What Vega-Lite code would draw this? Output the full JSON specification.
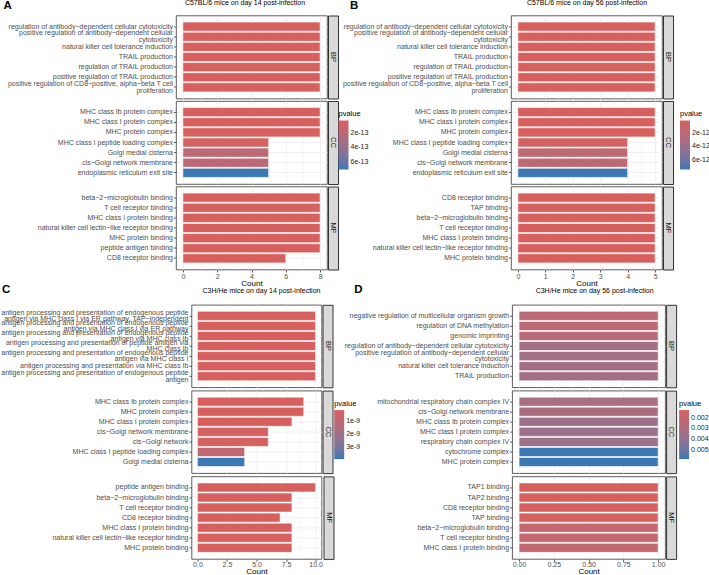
{
"$schema": "https://vega.github.io/schema/vega-lite/v6.json",
"padding": {"left": 0, "top": -1.5, "right": 0, "bottom": 0},
"config": {
  "font": "Liberation Sans",
  "view": {"stroke": "#333333", "strokeWidth": 0.8},
  "axis": {"domain": false, "labelColor": "#4D4D4D", "labelFontSize": 7, "tickColor": "#333333", "tickSize": 2.5, "tickWidth": 0.8, "labelPadding": 1, "gridColor": "#EBEBEB", "titleColor": "#000000", "titleFontWeight": "normal", "titleFontSize": 8},
  "legend": {"titleFontSize": 7.5, "titleFontWeight": "normal", "titleColor": "#000000", "labelFontSize": 7, "labelColor": "#1A1A1A", "gradientThickness": 10, "gradientLength": 49, "titlePadding": 3, "labelOffset": 2, "gradientStrokeWidth": 0}
},
"datasets": {
  "A": [
    {"cat": "BP", "term": "regulation of antibody−dependent cellular cytotoxicity", "count": 8, "pvalue": 2.4e-14},
    {"cat": "BP", "term": "positive regulation of antibody−dependent cellular|cytotoxicity", "count": 8, "pvalue": 2.4e-14},
    {"cat": "BP", "term": "natural killer cell tolerance induction", "count": 8, "pvalue": 2.4e-14},
    {"cat": "BP", "term": "TRAIL production", "count": 8, "pvalue": 2.4e-14},
    {"cat": "BP", "term": "regulation of TRAIL production", "count": 8, "pvalue": 2.4e-14},
    {"cat": "BP", "term": "positive regulation of TRAIL production", "count": 8, "pvalue": 2.4e-14},
    {"cat": "BP", "term": "positive regulation of CD8−positive, alpha−beta T cell|proliferation", "count": 8, "pvalue": 2.4e-14},
    {"cat": "CC", "term": "MHC class Ib protein complex", "count": 8, "pvalue": 2.4e-14},
    {"cat": "CC", "term": "MHC class I protein complex", "count": 8, "pvalue": 2.4e-14},
    {"cat": "CC", "term": "MHC protein complex", "count": 8, "pvalue": 2.4e-14},
    {"cat": "CC", "term": "MHC class I peptide loading complex", "count": 5, "pvalue": 4e-14},
    {"cat": "CC", "term": "Golgi medial cisterna", "count": 5, "pvalue": 2.0e-13},
    {"cat": "CC", "term": "cis−Golgi network membrane", "count": 5, "pvalue": 2.0e-13},
    {"cat": "CC", "term": "endoplasmic reticulum exit site", "count": 5, "pvalue": 7.1e-13},
    {"cat": "MF", "term": "beta−2−microglobulin binding", "count": 8, "pvalue": 2.4e-14},
    {"cat": "MF", "term": "T cell receptor binding", "count": 8, "pvalue": 2.4e-14},
    {"cat": "MF", "term": "MHC class I protein binding", "count": 8, "pvalue": 2.4e-14},
    {"cat": "MF", "term": "natural killer cell lectin−like receptor binding", "count": 8, "pvalue": 2.4e-14},
    {"cat": "MF", "term": "MHC protein binding", "count": 8, "pvalue": 2.4e-14},
    {"cat": "MF", "term": "peptide antigen binding", "count": 8, "pvalue": 2.4e-14},
    {"cat": "MF", "term": "CD8 receptor binding", "count": 6, "pvalue": 2.4e-14}
  ],
  "B": [
    {"cat": "BP", "term": "regulation of antibody−dependent cellular cytotoxicity", "count": 5, "pvalue": 1e-13},
    {"cat": "BP", "term": "positive regulation of antibody−dependent cellular|cytotoxicity", "count": 5, "pvalue": 1e-13},
    {"cat": "BP", "term": "natural killer cell tolerance induction", "count": 5, "pvalue": 1e-13},
    {"cat": "BP", "term": "TRAIL production", "count": 5, "pvalue": 1e-13},
    {"cat": "BP", "term": "regulation of TRAIL production", "count": 5, "pvalue": 1e-13},
    {"cat": "BP", "term": "positive regulation of TRAIL production", "count": 5, "pvalue": 1e-13},
    {"cat": "BP", "term": "positive regulation of CD8−positive, alpha−beta T cell|proliferation", "count": 5, "pvalue": 1e-13},
    {"cat": "CC", "term": "MHC class Ib protein complex", "count": 5, "pvalue": 1e-13},
    {"cat": "CC", "term": "MHC class I protein complex", "count": 5, "pvalue": 1e-13},
    {"cat": "CC", "term": "MHC protein complex", "count": 5, "pvalue": 1e-13},
    {"cat": "CC", "term": "MHC class I peptide loading complex", "count": 4, "pvalue": 3e-13},
    {"cat": "CC", "term": "Golgi medial cisterna", "count": 4, "pvalue": 1.9e-12},
    {"cat": "CC", "term": "cis−Golgi network membrane", "count": 4, "pvalue": 1.9e-12},
    {"cat": "CC", "term": "endoplasmic reticulum exit site", "count": 4, "pvalue": 7.46e-12},
    {"cat": "MF", "term": "CD8 receptor binding", "count": 5, "pvalue": 1e-13},
    {"cat": "MF", "term": "TAP binding", "count": 5, "pvalue": 1e-13},
    {"cat": "MF", "term": "beta−2−microglobulin binding", "count": 5, "pvalue": 1e-13},
    {"cat": "MF", "term": "T cell receptor binding", "count": 5, "pvalue": 1e-13},
    {"cat": "MF", "term": "MHC class I protein binding", "count": 5, "pvalue": 1e-13},
    {"cat": "MF", "term": "natural killer cell lectin−like receptor binding", "count": 5, "pvalue": 1e-13},
    {"cat": "MF", "term": "MHC protein binding", "count": 5, "pvalue": 1e-13}
  ],
  "C": [
    {"cat": "BP", "term": "antigen processing and presentation of endogenous peptide|antigen via MHC class I via ER pathway, TAP−independent", "count": 10, "pvalue": 1.8e-10},
    {"cat": "BP", "term": "antigen processing and presentation of endogenous peptide|antigen via MHC class I via ER pathway", "count": 10, "pvalue": 1.8e-10},
    {"cat": "BP", "term": "antigen processing and presentation of endogenous peptide|antigen via MHC class Ib", "count": 10, "pvalue": 1.8e-10},
    {"cat": "BP", "term": "antigen processing and presentation of peptide antigen via|MHC class Ib", "count": 10, "pvalue": 1.8e-10},
    {"cat": "BP", "term": "antigen processing and presentation of endogenous peptide|antigen via MHC class I", "count": 10, "pvalue": 1.8e-10},
    {"cat": "BP", "term": "antigen processing and presentation via MHC class Ib", "count": 10, "pvalue": 1.8e-10},
    {"cat": "BP", "term": "antigen processing and presentation of endogenous peptide|antigen", "count": 10, "pvalue": 1.8e-10},
    {"cat": "CC", "term": "MHC class Ib protein complex", "count": 9, "pvalue": 1.8e-10},
    {"cat": "CC", "term": "MHC protein complex", "count": 9, "pvalue": 1.8e-10},
    {"cat": "CC", "term": "MHC class I protein complex", "count": 8, "pvalue": 1.8e-10},
    {"cat": "CC", "term": "cis−Golgi network membrane", "count": 6, "pvalue": 2.5e-10},
    {"cat": "CC", "term": "cis−Golgi network", "count": 6, "pvalue": 2.5e-10},
    {"cat": "CC", "term": "MHC class I peptide loading complex", "count": 4, "pvalue": 9.5e-10},
    {"cat": "CC", "term": "Golgi medial cisterna", "count": 4, "pvalue": 3.95e-9},
    {"cat": "MF", "term": "peptide antigen binding", "count": 10, "pvalue": 1.8e-10},
    {"cat": "MF", "term": "beta−2−microglobulin binding", "count": 8, "pvalue": 1.8e-10},
    {"cat": "MF", "term": "T cell receptor binding", "count": 8, "pvalue": 1.8e-10},
    {"cat": "MF", "term": "CD8 receptor binding", "count": 7, "pvalue": 1.8e-10},
    {"cat": "MF", "term": "MHC class I protein binding", "count": 8, "pvalue": 1.8e-10},
    {"cat": "MF", "term": "natural killer cell lectin−like receptor binding", "count": 8, "pvalue": 1.8e-10},
    {"cat": "MF", "term": "MHC protein binding", "count": 8, "pvalue": 1.8e-10}
  ],
  "D": [
    {"cat": "BP", "term": "negative regulation of multicellular organism growth", "count": 1, "pvalue": 0.0025},
    {"cat": "BP", "term": "regulation of DNA methylation", "count": 1, "pvalue": 0.0025},
    {"cat": "BP", "term": "genomic imprinting", "count": 1, "pvalue": 0.0026},
    {"cat": "BP", "term": "regulation of antibody−dependent cellular cytotoxicity", "count": 1, "pvalue": 0.0034},
    {"cat": "BP", "term": "positive regulation of antibody−dependent cellular|cytotoxicity", "count": 1, "pvalue": 0.0034},
    {"cat": "BP", "term": "natural killer cell tolerance induction", "count": 1, "pvalue": 0.0034},
    {"cat": "BP", "term": "TRAIL production", "count": 1, "pvalue": 0.0034},
    {"cat": "CC", "term": "mitochondrial respiratory chain complex IV", "count": 1, "pvalue": 0.0032},
    {"cat": "CC", "term": "cis−Golgi network membrane", "count": 1, "pvalue": 0.0031},
    {"cat": "CC", "term": "MHC class Ib protein complex", "count": 1, "pvalue": 0.0036},
    {"cat": "CC", "term": "MHC class I protein complex", "count": 1, "pvalue": 0.0036},
    {"cat": "CC", "term": "respiratory chain complex IV", "count": 1, "pvalue": 0.0036},
    {"cat": "CC", "term": "cytochrome complex", "count": 1, "pvalue": 0.0059},
    {"cat": "CC", "term": "MHC protein complex", "count": 1, "pvalue": 0.0059},
    {"cat": "MF", "term": "TAP1 binding", "count": 1, "pvalue": 0.0013},
    {"cat": "MF", "term": "TAP2 binding", "count": 1, "pvalue": 0.0013},
    {"cat": "MF", "term": "CD8 receptor binding", "count": 1, "pvalue": 0.00135},
    {"cat": "MF", "term": "TAP binding", "count": 1, "pvalue": 0.0014},
    {"cat": "MF", "term": "beta−2−microglobulin binding", "count": 1, "pvalue": 0.0021},
    {"cat": "MF", "term": "T cell receptor binding", "count": 1, "pvalue": 0.0021},
    {"cat": "MF", "term": "MHC class I protein binding", "count": 1, "pvalue": 0.0022}
  ]
},
"spacing": -5.7,
"resolve": {"scale": {"color": "independent"}},
"vconcat": [
 {"hconcat": [
  {"spacing": 0.5, "resolve": {"scale": {"color": "independent"}}, "vconcat": [
   {"spacing": -2, "resolve": {"scale": {"color": "independent"}}, "hconcat": [
    {"width": 151, "height": 83, "data": {"name": "A"}, "transform": [{"filter": "datum.cat == 'BP'"}],
     "mark": {"type": "bar", "stroke": "white", "strokeWidth": 0.6},
     "encoding": {
      "y": {"field": "term", "type": "nominal", "sort": null, "scale": {"paddingInner": 0.1, "paddingOuter": 0.65},
            "axis": {"title": "A", "titleAngle": 0, "titleAlign": "left", "titleBaseline": "top", "titleX": -173, "titleY": -16.5, "titleFontSize": 11.5, "titleFontWeight": "bold", "labelExpr": "split(datum.value, '|')", "labelOffset": {"condition": {"test": "datum.value == 'positive regulation of antibody−dependent cellular|cytotoxicity' || datum.value == 'positive regulation of CD8−positive, alpha−beta T cell|proliferation'", "value": -3.3}, "value": 0}, "labelLimit": 0, "labelLineHeight": 6.6, "minExtent": 173, "bandPosition": 0.5, "grid": true, "gridWidth": 0.7}},
      "x": {"field": "count", "type": "quantitative", "stack": null, "scale": {"domain": [-0.4, 8.4], "nice": false, "zero": false},
            "axis": {"orient": "top", "labels": false, "ticks": false, "values": [0,1,2,3,4,5,6,7,8], "gridWidth": {"condition": {"test": "datum.value % 2 == 1", "value": 0.35}, "value": 0.7}, "title": "C57BL/6 mice on day 14 post-infection", "titleFontSize": 7, "titleX": 68.5, "titleY": -9.6, "titleBaseline": "bottom"}},
      "x2": {"datum": 0},
      "color": {"field": "pvalue", "type": "quantitative", "scale": {"domain": [7.1e-13, 2.4e-14], "range": ["#3B78B4", "#D7605F"], "interpolate": "lab", "nice": false, "zero": false}, "legend": null}
     }},
    {"width": 10, "height": 83, "view": {"fill": "#D9D9D9", "stroke": "#333333"}, "data": {"values": [{"lab": "BP"}]}, "mark": {"type": "text", "angle": 90, "fontSize": 7.5, "color": "#1A1A1A"}, "encoding": {"text": {"field": "lab", "type": "nominal"}}}
   ]},
   {"spacing": -2, "resolve": {"scale": {"color": "independent"}}, "hconcat": [
    {"width": 151, "height": 83, "data": {"name": "A"}, "transform": [{"filter": "datum.cat == 'CC'"}],
     "mark": {"type": "bar", "stroke": "white", "strokeWidth": 0.6},
     "encoding": {
      "y": {"field": "term", "type": "nominal", "sort": null, "scale": {"paddingInner": 0.1, "paddingOuter": 0.65},
            "axis": {"title": null, "labelLimit": 0, "minExtent": 173, "bandPosition": 0.5, "grid": true, "gridWidth": 0.7}},
      "x": {"field": "count", "type": "quantitative", "stack": null, "scale": {"domain": [-0.4, 8.4], "nice": false, "zero": false},
            "axis": {"title": null, "labels": false, "ticks": false, "values": [0,1,2,3,4,5,6,7,8], "gridWidth": {"condition": {"test": "datum.value % 2 == 1", "value": 0.35}, "value": 0.7}}},
      "x2": {"datum": 0},
      "color": {"field": "pvalue", "type": "quantitative", "scale": {"domain": [7.1e-13, 2.4e-14], "range": ["#3B78B4", "#D7605F"], "interpolate": "lab", "nice": false, "zero": false}, "legend": null}
     }},
    {"width": 10, "height": 83, "view": {"fill": "#D9D9D9", "stroke": "#333333"}, "layer": [
      {"data": {"values": [{"lab": "CC"}]}, "mark": {"type": "text", "angle": 90, "fontSize": 7.5, "color": "#1A1A1A"}, "encoding": {"text": {"field": "lab", "type": "nominal"}}},
      {"data": {"name": "A"}, "transform": [{"filter": "datum.cat == 'CC'"}], "mark": {"type": "point", "opacity": 0},
       "encoding": {"color": {"field": "pvalue", "type": "quantitative", "scale": {"domain": [7.1e-13, 2.4e-14], "range": ["#3B78B4", "#D7605F"], "interpolate": "lab", "nice": false, "zero": false},
         "legend": {"title": "pvalue", "orient": "none", "legendX": 10.5, "legendY": 9, "direction": "vertical", "values": [2e-13, 4e-13, 6e-13], "format": ".0e"}}}}
    ]}
   ]},
   {"spacing": -2, "resolve": {"scale": {"color": "independent"}}, "hconcat": [
    {"width": 151, "height": 83, "data": {"name": "A"}, "transform": [{"filter": "datum.cat == 'MF'"}],
     "mark": {"type": "bar", "stroke": "white", "strokeWidth": 0.6},
     "encoding": {
      "y": {"field": "term", "type": "nominal", "sort": null, "scale": {"paddingInner": 0.1, "paddingOuter": 0.65},
            "axis": {"title": null, "labelLimit": 0, "minExtent": 173, "bandPosition": 0.5, "grid": true, "gridWidth": 0.7}},
      "x": {"field": "count", "type": "quantitative", "stack": null, "scale": {"domain": [-0.4, 8.4], "nice": false, "zero": false},
            "axis": {"title": "Count", "titleY": 10.4, "titleBaseline": "top", "labelPadding": 0, "format": "d", "values": [0,1,2,3,4,5,6,7,8], "labelExpr": "datum.value % 2 == 1 ? '' : datum.label", "tickOpacity": {"condition": {"test": "datum.value % 2 == 1", "value": 0}, "value": 1}, "gridWidth": {"condition": {"test": "datum.value % 2 == 1", "value": 0.35}, "value": 0.7}}},
      "x2": {"datum": 0},
      "color": {"field": "pvalue", "type": "quantitative", "scale": {"domain": [7.1e-13, 2.4e-14], "range": ["#3B78B4", "#D7605F"], "interpolate": "lab", "nice": false, "zero": false}, "legend": null}
     }},
    {"width": 10, "height": 83, "view": {"fill": "#D9D9D9", "stroke": "#333333"}, "data": {"values": [{"lab": "MF"}]}, "mark": {"type": "text", "angle": 90, "fontSize": 7.5, "color": "#1A1A1A"}, "encoding": {"text": {"field": "lab", "type": "nominal"}}}
   ]}
  ]},
  {"spacing": 0.5, "resolve": {"scale": {"color": "independent"}}, "vconcat": [
   {"spacing": -2, "resolve": {"scale": {"color": "independent"}}, "hconcat": [
    {"width": 151, "height": 83, "data": {"name": "B"}, "transform": [{"filter": "datum.cat == 'BP'"}],
     "mark": {"type": "bar", "stroke": "white", "strokeWidth": 0.6},
     "encoding": {
      "y": {"field": "term", "type": "nominal", "sort": null, "scale": {"paddingInner": 0.1, "paddingOuter": 0.65},
            "axis": {"title": "B", "titleAngle": 0, "titleAlign": "left", "titleBaseline": "top", "titleX": -161.5, "titleY": -16.5, "titleFontSize": 11.5, "titleFontWeight": "bold", "labelExpr": "split(datum.value, '|')", "labelOffset": {"condition": {"test": "datum.value == 'positive regulation of antibody−dependent cellular|cytotoxicity' || datum.value == 'positive regulation of CD8−positive, alpha−beta T cell|proliferation'", "value": -3.3}, "value": 0}, "labelLimit": 0, "labelLineHeight": 6.6, "minExtent": 175, "bandPosition": 0.5, "grid": true, "gridWidth": 0.7}},
      "x": {"field": "count", "type": "quantitative", "stack": null, "scale": {"domain": [-0.25, 5.25], "nice": false, "zero": false},
            "axis": {"orient": "top", "labels": false, "ticks": false, "values": [0,0.5,1,1.5,2,2.5,3,3.5,4,4.5,5], "gridWidth": {"condition": {"test": "datum.value % 1 != 0", "value": 0.35}, "value": 0.7}, "title": "C57BL/6 mice on day 56 post-infection", "titleFontSize": 7, "titleX": 75.5, "titleY": -9.6, "titleBaseline": "bottom"}},
      "x2": {"datum": 0},
      "color": {"field": "pvalue", "type": "quantitative", "scale": {"domain": [7.46e-12, 1e-13], "range": ["#3B78B4", "#D7605F"], "interpolate": "lab", "nice": false, "zero": false}, "legend": null}
     }},
    {"width": 10, "height": 83, "view": {"fill": "#D9D9D9", "stroke": "#333333"}, "data": {"values": [{"lab": "BP"}]}, "mark": {"type": "text", "angle": 90, "fontSize": 7.5, "color": "#1A1A1A"}, "encoding": {"text": {"field": "lab", "type": "nominal"}}}
   ]},
   {"spacing": -2, "resolve": {"scale": {"color": "independent"}}, "hconcat": [
    {"width": 151, "height": 83, "data": {"name": "B"}, "transform": [{"filter": "datum.cat == 'CC'"}],
     "mark": {"type": "bar", "stroke": "white", "strokeWidth": 0.6},
     "encoding": {
      "y": {"field": "term", "type": "nominal", "sort": null, "scale": {"paddingInner": 0.1, "paddingOuter": 0.65},
            "axis": {"title": null, "labelLimit": 0, "minExtent": 175, "bandPosition": 0.5, "grid": true, "gridWidth": 0.7}},
      "x": {"field": "count", "type": "quantitative", "stack": null, "scale": {"domain": [-0.25, 5.25], "nice": false, "zero": false},
            "axis": {"title": null, "labels": false, "ticks": false, "values": [0,0.5,1,1.5,2,2.5,3,3.5,4,4.5,5], "gridWidth": {"condition": {"test": "datum.value % 1 != 0", "value": 0.35}, "value": 0.7}}},
      "x2": {"datum": 0},
      "color": {"field": "pvalue", "type": "quantitative", "scale": {"domain": [7.46e-12, 1e-13], "range": ["#3B78B4", "#D7605F"], "interpolate": "lab", "nice": false, "zero": false}, "legend": null}
     }},
    {"width": 10, "height": 83, "view": {"fill": "#D9D9D9", "stroke": "#333333"}, "layer": [
      {"data": {"values": [{"lab": "CC"}]}, "mark": {"type": "text", "angle": 90, "fontSize": 7.5, "color": "#1A1A1A"}, "encoding": {"text": {"field": "lab", "type": "nominal"}}},
      {"data": {"name": "B"}, "transform": [{"filter": "datum.cat == 'CC'"}], "mark": {"type": "point", "opacity": 0},
       "encoding": {"color": {"field": "pvalue", "type": "quantitative", "scale": {"domain": [7.46e-12, 1e-13], "range": ["#3B78B4", "#D7605F"], "interpolate": "lab", "nice": false, "zero": false},
         "legend": {"title": "pvalue", "orient": "none", "legendX": 17, "legendY": 9, "direction": "vertical", "values": [2e-12, 4e-12, 6e-12], "format": ".0e"}}}}
    ]}
   ]},
   {"spacing": -2, "resolve": {"scale": {"color": "independent"}}, "hconcat": [
    {"width": 151, "height": 83, "data": {"name": "B"}, "transform": [{"filter": "datum.cat == 'MF'"}],
     "mark": {"type": "bar", "stroke": "white", "strokeWidth": 0.6},
     "encoding": {
      "y": {"field": "term", "type": "nominal", "sort": null, "scale": {"paddingInner": 0.1, "paddingOuter": 0.65},
            "axis": {"title": null, "labelLimit": 0, "minExtent": 175, "bandPosition": 0.5, "grid": true, "gridWidth": 0.7}},
      "x": {"field": "count", "type": "quantitative", "stack": null, "scale": {"domain": [-0.25, 5.25], "nice": false, "zero": false},
            "axis": {"title": "Count", "titleY": 10.4, "titleBaseline": "top", "labelPadding": 0, "format": "d", "values": [0,0.5,1,1.5,2,2.5,3,3.5,4,4.5,5], "labelExpr": "datum.value % 1 != 0 ? '' : datum.label", "tickOpacity": {"condition": {"test": "datum.value % 1 != 0", "value": 0}, "value": 1}, "gridWidth": {"condition": {"test": "datum.value % 1 != 0", "value": 0.35}, "value": 0.7}}},
      "x2": {"datum": 0},
      "color": {"field": "pvalue", "type": "quantitative", "scale": {"domain": [7.46e-12, 1e-13], "range": ["#3B78B4", "#D7605F"], "interpolate": "lab", "nice": false, "zero": false}, "legend": null}
     }},
    {"width": 10, "height": 83, "view": {"fill": "#D9D9D9", "stroke": "#333333"}, "data": {"values": [{"lab": "MF"}]}, "mark": {"type": "text", "angle": 90, "fontSize": 7.5, "color": "#1A1A1A"}, "encoding": {"text": {"field": "lab", "type": "nominal"}}}
   ]}
  ]}
 ], "spacing": -34, "resolve": {"scale": {"color": "independent"}}},
 {"hconcat": [
  {"width": 1, "height": 1, "view": {"stroke": null}, "data": {"values": [{"v": 0}]}, "mark": {"type": "point", "opacity": 0}, "encoding": {}},
  {"hconcat": [
  {"spacing": 1.8, "resolve": {"scale": {"color": "independent"}}, "vconcat": [
   {"spacing": -2, "resolve": {"scale": {"color": "independent"}}, "hconcat": [
    {"width": 130, "height": 82.5, "data": {"name": "C"}, "transform": [{"filter": "datum.cat == 'BP'"}],
     "mark": {"type": "bar", "stroke": "white", "strokeWidth": 0.6},
     "encoding": {
      "y": {"field": "term", "type": "nominal", "sort": null, "scale": {"paddingInner": 0.1, "paddingOuter": 0.65},
            "axis": {"title": "C", "titleAngle": 0, "titleAlign": "left", "titleBaseline": "top", "titleX": -190, "titleY": -21.3, "titleFontSize": 11.5, "titleFontWeight": "bold", "labelFontSize": 7.05, "labelExpr": "split(datum.value, '|')", "labelOffset": {"condition": {"test": "datum.value != 'antigen processing and presentation via MHC class Ib'", "value": -3.3}, "value": 0}, "labelLimit": 0, "labelLineHeight": 6.6, "minExtent": 191, "bandPosition": 0.5, "grid": true, "gridWidth": 0.7}},
      "x": {"field": "count", "type": "quantitative", "stack": null, "scale": {"domain": [-0.5, 10.5], "nice": false, "zero": false},
            "axis": {"orient": "top", "labels": false, "ticks": false, "values": [0,1.25,2.5,3.75,5,6.25,7.5,8.75,10], "gridWidth": {"condition": {"test": "datum.value % 2.5 != 0", "value": 0.35}, "value": 0.7}, "title": "C3H/He mice on day 14 post-infection", "titleFontSize": 7, "titleX": 69.5, "titleY": -11.6, "titleBaseline": "bottom"}},
      "x2": {"datum": 0},
      "color": {"field": "pvalue", "type": "quantitative", "scale": {"domain": [3.95e-9, 1.8e-10], "range": ["#3B78B4", "#D7605F"], "interpolate": "lab", "nice": false, "zero": false}, "legend": null}
     }},
    {"width": 10, "height": 82.5, "view": {"fill": "#D9D9D9", "stroke": "#333333"}, "data": {"values": [{"lab": "BP"}]}, "mark": {"type": "text", "angle": 90, "fontSize": 7.5, "color": "#1A1A1A"}, "encoding": {"text": {"field": "lab", "type": "nominal"}}}
   ]},
   {"spacing": -2, "resolve": {"scale": {"color": "independent"}}, "hconcat": [
    {"width": 130, "height": 82.5, "data": {"name": "C"}, "transform": [{"filter": "datum.cat == 'CC'"}],
     "mark": {"type": "bar", "stroke": "white", "strokeWidth": 0.6},
     "encoding": {
      "y": {"field": "term", "type": "nominal", "sort": null, "scale": {"paddingInner": 0.1, "paddingOuter": 0.65},
            "axis": {"title": null, "labelFontSize": 7.05, "labelLimit": 0, "minExtent": 191, "bandPosition": 0.5, "grid": true, "gridWidth": 0.7}},
      "x": {"field": "count", "type": "quantitative", "stack": null, "scale": {"domain": [-0.5, 10.5], "nice": false, "zero": false},
            "axis": {"title": null, "labels": false, "ticks": false, "values": [0,1.25,2.5,3.75,5,6.25,7.5,8.75,10], "gridWidth": {"condition": {"test": "datum.value % 2.5 != 0", "value": 0.35}, "value": 0.7}}},
      "x2": {"datum": 0},
      "color": {"field": "pvalue", "type": "quantitative", "scale": {"domain": [3.95e-9, 1.8e-10], "range": ["#3B78B4", "#D7605F"], "interpolate": "lab", "nice": false, "zero": false}, "legend": null}
     }},
    {"width": 10, "height": 82.5, "view": {"fill": "#D9D9D9", "stroke": "#333333"}, "layer": [
      {"data": {"values": [{"lab": "CC"}]}, "mark": {"type": "text", "angle": 90, "fontSize": 7.5, "color": "#1A1A1A"}, "encoding": {"text": {"field": "lab", "type": "nominal"}}},
      {"data": {"name": "C"}, "transform": [{"filter": "datum.cat == 'CC'"}], "mark": {"type": "point", "opacity": 0},
       "encoding": {"color": {"field": "pvalue", "type": "quantitative", "scale": {"domain": [3.95e-9, 1.8e-10], "range": ["#3B78B4", "#D7605F"], "interpolate": "lab", "nice": false, "zero": false},
         "legend": {"title": "pvalue", "orient": "none", "legendX": 11.7, "legendY": 9, "direction": "vertical", "values": [1e-9, 2e-9, 3e-9], "format": ".0e"}}}}
    ]}
   ]},
   {"spacing": -2, "resolve": {"scale": {"color": "independent"}}, "hconcat": [
    {"width": 130, "height": 82.5, "data": {"name": "C"}, "transform": [{"filter": "datum.cat == 'MF'"}],
     "mark": {"type": "bar", "stroke": "white", "strokeWidth": 0.6},
     "encoding": {
      "y": {"field": "term", "type": "nominal", "sort": null, "scale": {"paddingInner": 0.1, "paddingOuter": 0.65},
            "axis": {"title": null, "labelFontSize": 7.05, "labelLimit": 0, "minExtent": 191, "bandPosition": 0.5, "grid": true, "gridWidth": 0.7}},
      "x": {"field": "count", "type": "quantitative", "stack": null, "scale": {"domain": [-0.5, 10.5], "nice": false, "zero": false},
            "axis": {"title": "Count", "titleY": 8.2, "titleBaseline": "top", "labelPadding": -1, "format": ".1f", "values": [0,1.25,2.5,3.75,5,6.25,7.5,8.75,10], "labelExpr": "datum.value % 2.5 != 0 ? '' : datum.label", "tickOpacity": {"condition": {"test": "datum.value % 2.5 != 0", "value": 0}, "value": 1}, "gridWidth": {"condition": {"test": "datum.value % 2.5 != 0", "value": 0.35}, "value": 0.7}}},
      "x2": {"datum": 0},
      "color": {"field": "pvalue", "type": "quantitative", "scale": {"domain": [3.95e-9, 1.8e-10], "range": ["#3B78B4", "#D7605F"], "interpolate": "lab", "nice": false, "zero": false}, "legend": null}
     }},
    {"width": 10, "height": 82.5, "view": {"fill": "#D9D9D9", "stroke": "#333333"}, "data": {"values": [{"lab": "MF"}]}, "mark": {"type": "text", "angle": 90, "fontSize": 7.5, "color": "#1A1A1A"}, "encoding": {"text": {"field": "lab", "type": "nominal"}}}
   ]}
  ]},
  {"spacing": 1.8, "resolve": {"scale": {"color": "independent"}}, "vconcat": [
   {"spacing": -2, "resolve": {"scale": {"color": "independent"}}, "hconcat": [
    {"width": 153, "height": 82.5, "data": {"name": "D"}, "transform": [{"filter": "datum.cat == 'BP'"}],
     "mark": {"type": "bar", "stroke": "white", "strokeWidth": 0.6},
     "encoding": {
      "y": {"field": "term", "type": "nominal", "sort": null, "scale": {"paddingInner": 0.1, "paddingOuter": 0.65},
            "axis": {"title": "D", "titleAngle": 0, "titleAlign": "left", "titleBaseline": "top", "titleX": -158.4, "titleY": -21.3, "titleFontSize": 11.5, "titleFontWeight": "bold", "labelExpr": "split(datum.value, '|')", "labelOffset": {"condition": {"test": "datum.value == 'positive regulation of antibody−dependent cellular|cytotoxicity'", "value": -3.3}, "value": 0}, "labelLimit": 0, "labelLineHeight": 6.6, "minExtent": 173, "bandPosition": 0.5, "grid": true, "gridWidth": 0.7}},
      "x": {"field": "count", "type": "quantitative", "stack": null, "scale": {"domain": [-0.05, 1.05], "nice": false, "zero": false},
            "axis": {"orient": "top", "labels": false, "ticks": false, "values": [0,0.125,0.25,0.375,0.5,0.625,0.75,0.875,1], "gridWidth": {"condition": {"test": "datum.value % 0.25 != 0", "value": 0.35}, "value": 0.7}, "title": "C3H/He mice on day 56 post-infection", "titleFontSize": 7, "titleX": 82, "titleY": -11.6, "titleBaseline": "bottom"}},
      "x2": {"datum": 0},
      "color": {"field": "pvalue", "type": "quantitative", "scale": {"domain": [0.0059, 0.0013], "range": ["#3B78B4", "#D7605F"], "interpolate": "lab", "nice": false, "zero": false}, "legend": null}
     }},
    {"width": 10, "height": 82.5, "view": {"fill": "#D9D9D9", "stroke": "#333333"}, "data": {"values": [{"lab": "BP"}]}, "mark": {"type": "text", "angle": 90, "fontSize": 7.5, "color": "#1A1A1A"}, "encoding": {"text": {"field": "lab", "type": "nominal"}}}
   ]},
   {"spacing": -2, "resolve": {"scale": {"color": "independent"}}, "hconcat": [
    {"width": 153, "height": 82.5, "data": {"name": "D"}, "transform": [{"filter": "datum.cat == 'CC'"}],
     "mark": {"type": "bar", "stroke": "white", "strokeWidth": 0.6},
     "encoding": {
      "y": {"field": "term", "type": "nominal", "sort": null, "scale": {"paddingInner": 0.1, "paddingOuter": 0.65},
            "axis": {"title": null, "labelLimit": 0, "minExtent": 173, "bandPosition": 0.5, "grid": true, "gridWidth": 0.7}},
      "x": {"field": "count", "type": "quantitative", "stack": null, "scale": {"domain": [-0.05, 1.05], "nice": false, "zero": false},
            "axis": {"title": null, "labels": false, "ticks": false, "values": [0,0.125,0.25,0.375,0.5,0.625,0.75,0.875,1], "gridWidth": {"condition": {"test": "datum.value % 0.25 != 0", "value": 0.35}, "value": 0.7}}},
      "x2": {"datum": 0},
      "color": {"field": "pvalue", "type": "quantitative", "scale": {"domain": [0.0059, 0.0013], "range": ["#3B78B4", "#D7605F"], "interpolate": "lab", "nice": false, "zero": false}, "legend": null}
     }},
    {"width": 10, "height": 82.5, "view": {"fill": "#D9D9D9", "stroke": "#333333"}, "layer": [
      {"data": {"values": [{"lab": "CC"}]}, "mark": {"type": "text", "angle": 90, "fontSize": 7.5, "color": "#1A1A1A"}, "encoding": {"text": {"field": "lab", "type": "nominal"}}},
      {"data": {"name": "D"}, "transform": [{"filter": "datum.cat == 'CC'"}], "mark": {"type": "point", "opacity": 0},
       "encoding": {"color": {"field": "pvalue", "type": "quantitative", "scale": {"domain": [0.0059, 0.0013], "range": ["#3B78B4", "#D7605F"], "interpolate": "lab", "nice": false, "zero": false},
         "legend": {"title": "pvalue", "orient": "none", "legendX": 13, "legendY": 9, "direction": "vertical", "values": [0.002, 0.003, 0.004, 0.005], "format": ".3f"}}}}
    ]}
   ]},
   {"spacing": -2, "resolve": {"scale": {"color": "independent"}}, "hconcat": [
    {"width": 153, "height": 82.5, "data": {"name": "D"}, "transform": [{"filter": "datum.cat == 'MF'"}],
     "mark": {"type": "bar", "stroke": "white", "strokeWidth": 0.6},
     "encoding": {
      "y": {"field": "term", "type": "nominal", "sort": null, "scale": {"paddingInner": 0.1, "paddingOuter": 0.65},
            "axis": {"title": null, "labelLimit": 0, "minExtent": 173, "bandPosition": 0.5, "grid": true, "gridWidth": 0.7}},
      "x": {"field": "count", "type": "quantitative", "stack": null, "scale": {"domain": [-0.05, 1.05], "nice": false, "zero": false},
            "axis": {"title": "Count", "titleY": 8.2, "titleBaseline": "top", "labelPadding": -1, "format": ".2f", "values": [0,0.125,0.25,0.375,0.5,0.625,0.75,0.875,1], "labelExpr": "datum.value % 0.25 != 0 ? '' : datum.label", "tickOpacity": {"condition": {"test": "datum.value % 0.25 != 0", "value": 0}, "value": 1}, "gridWidth": {"condition": {"test": "datum.value % 0.25 != 0", "value": 0.35}, "value": 0.7}}},
      "x2": {"datum": 0},
      "color": {"field": "pvalue", "type": "quantitative", "scale": {"domain": [0.0059, 0.0013], "range": ["#3B78B4", "#D7605F"], "interpolate": "lab", "nice": false, "zero": false}, "legend": null}
     }},
    {"width": 10, "height": 82.5, "view": {"fill": "#D9D9D9", "stroke": "#333333"}, "data": {"values": [{"lab": "MF"}]}, "mark": {"type": "text", "angle": 90, "fontSize": 7.5, "color": "#1A1A1A"}, "encoding": {"text": {"field": "lab", "type": "nominal"}}}
   ]}
  ]}
  ], "spacing": -24.4, "resolve": {"scale": {"color": "independent"}}}
 ], "spacing": -180.5, "resolve": {"scale": {"color": "independent"}}}
]
}
